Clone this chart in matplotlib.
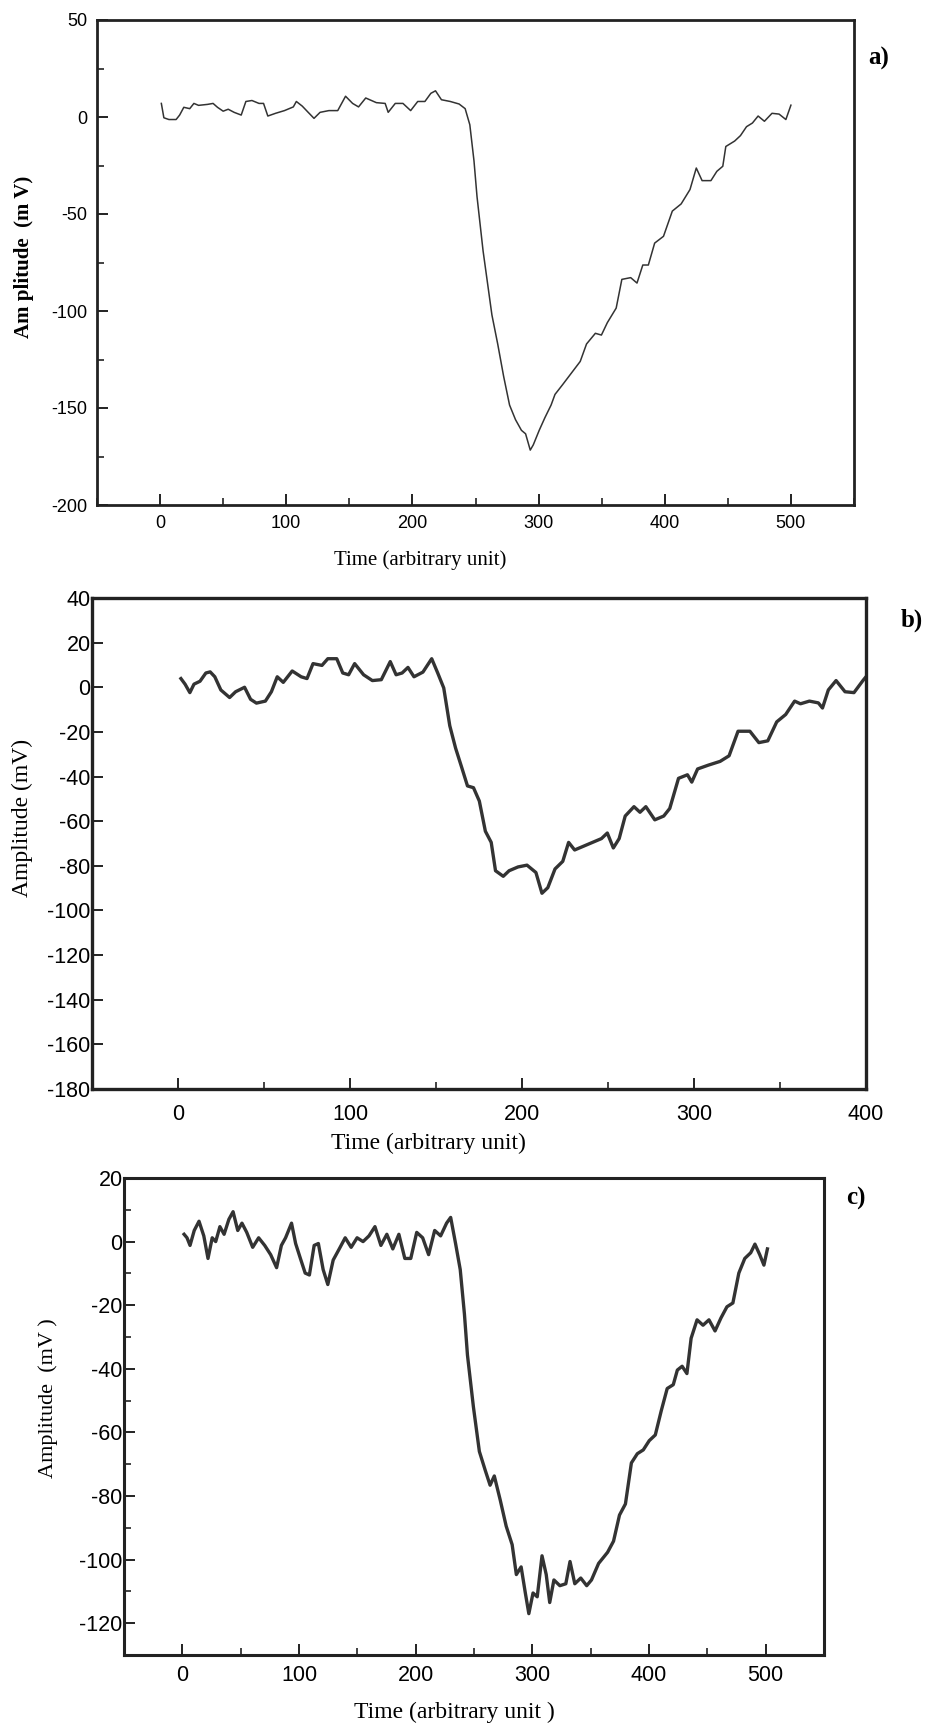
import matplotlib
matplotlib.use("Agg")
import matplotlib.pyplot as plt
from matplotlib.ticker import MultipleLocator

plt.rcParams['axes.unicode_minus'] = False

# ---- data ----
t_a = [1, 3, 7, 12.7, 15.5, 18.8, 23.5, 26.8, 30.5, 37.6, 42, 45.5, 50, 54, 58.7, 64.3, 68, 72.8,
       78.4, 82, 85.4, 91.5, 98.6, 105.6, 108, 112.7, 117.4, 122, 126.8, 133.8, 140.8, 147, 152.6,
       157.3, 163, 171.4, 178.4, 180.8, 186.4, 192.5, 198.6, 204.2, 209.9, 214.6, 218.3, 223, 230,
       237, 241.8, 245.5, 248.8, 251.2, 256, 263, 267.6, 272.3, 277, 281.7, 286.4, 289.7, 293.4,
       295.8, 300.5, 305, 309.9, 313, 319, 326, 333, 338, 345, 349.8, 354.5, 361.5, 366, 373, 378,
       382.6, 387, 392, 399, 406, 413, 420, 425, 429.6, 436.6, 441.3, 446, 448.4, 455.4, 460, 464.8,
       469.5, 474, 479, 485, 490.6, 496, 500]
v_a = [7, -0.4, -1.3, -1.3, 1, 5, 4.3, 7, 6, 6.5, 7, 5, 3, 4, 2.4, 1, 8, 8.5,
       7, 7, 0.5, 1.9, 3.3, 5.2, 8, 5.6, 2.4, -0.7, 2.4, 3.3, 3.3, 10.7, 7,
       5.2, 9.8, 7.4, 7, 2.4, 7, 7, 3.3, 8, 8, 12.2, 13.5, 8.9, 8,
       6.7, 4.3, -4, -22.6, -41, -69, -102, -117, -133.7, -148.5, -156, -161.5, -163.3, -171.7,
       -169, -161.5, -155, -148.5, -143, -138, -132, -126, -117, -111.5, -112.4, -106, -98.5, -83.7, -82.8, -85.6,
       -76.3, -76.3, -65, -61.5, -48.5, -44.8, -37.4, -26.3, -32.8, -32.8, -28, -25.4, -15.2, -12.4, -9.6, -5,
       -3.1, 0.5, -2.2, 1.9, 1.5, -1.3, 6.1]

t_b = [1.7, 4.1, 6.9, 9.3, 12.8, 16.2, 18.7, 21.4, 24.9, 30, 33.5, 38.7, 42.2, 45.6, 50.8, 54.3,
       57.7, 61.2, 66.4, 71.6, 75, 78.5, 83.7, 87.1, 92.3, 95.8, 99.2, 102.7, 107.9, 113, 118.2,
       123.4, 126.8, 130.3, 133.7, 137.2, 142.4, 147.5, 151, 154.5, 158, 161.4, 164.9, 168.3, 171.8,
       175.2, 178.7, 182.1, 184.6, 189.1, 192.5, 197.7, 202.9, 208.1, 211.6, 215, 219.2, 223.7, 227.1,
       230.6, 235.8, 241, 246.2, 249.6, 253.1, 256.5, 260, 265.1, 268.6, 272, 277.2, 282.4, 285.9,
       291, 296.2, 298.7, 302.1, 308.3, 315.2, 320.4, 325.6, 332.5, 337.7, 342.9, 348.1, 353.3,
       358.5, 361.9, 367.1, 372.3, 374.7, 378.1, 382.6, 387.8, 393, 398.2, 400]
v_b = [3.9, 1.4, -2.4, 1.4, 2.7, 6.4, 6.9, 4.7, -1.2, -4.6, -2, 0, -5.4, -7.1, -6.2, -2,
       4.7, 2.2, 7.3, 4.7, 3.9, 10.6, 9.8, 12.8, 12.8, 6.4, 5.6, 10.6, 5.6, 3, 3.4,
       11.5, 5.6, 6.4, 8.9, 4.7, 6.8, 12.8, 6.4, -0.3, -17.2, -27.3, -35.8, -44.2, -45,
       -51, -64.5, -69.5, -82.2, -84.7, -82.2, -80.5, -79.7, -83, -92.3, -89.8, -81.4, -78, -69.5,
       -72.9, -71.2, -69.5, -67.8, -65.3, -72, -67.8, -57.7, -53.5, -56, -53.5, -59.4, -57.7, -54.3,
       -40.8, -39.2, -42.5, -36.6, -34.9, -33.2, -30.7, -19.7, -19.7, -24.8, -24, -15.5, -12.2,
       -6.2, -7.4, -6.2, -7, -9.3, -1.2, 3, -2, -2.4, 3, 4.7]

t_c = [1.5, 4, 6.6, 10.2, 14.3, 18.4, 22, 25.6, 28.6, 32.2, 35.8, 39.9, 43.5, 47.5, 51.1, 55.2,
       60.3, 65.4, 70.6, 75.7, 80.8, 84.9, 88.5, 93.6, 97.1, 101.2, 105.3, 108.9, 113, 116.6, 120.7,
       124.7, 129.3, 134.5, 139.6, 144.7, 149.8, 154.9, 160, 165.1, 170.2, 175.3, 180.4, 185.6,
       190.7, 195.8, 200.9, 206, 211.1, 216.3, 221.4, 226.5, 230, 234.2, 238.2, 241.8, 244.4, 249.5,
       254.6, 259.7, 263.8, 267.4, 272.5, 277.6, 282.7, 286.3, 290.4, 294, 297, 300.6, 304.2, 308.3,
       311.9, 314.9, 318.5, 323.6, 328.7, 332.3, 336.4, 341.5, 346.6, 350.7, 356.8, 364.5, 369.6,
       374.7, 379.8, 384.9, 390, 395.1, 400.2, 405.4, 410.5, 415.6, 420.8, 424.3, 428.4, 432.5,
       436.1, 441.2, 446.3, 451.4, 456.6, 461.7, 466.8, 471.9, 477, 482.1, 487.2, 490.8, 494.9,
       498.5, 501.5]
v_c = [2.3, 1.2, -1.2, 3.5, 6.4, 1.8, -5.3, 1.2, 0, 4.7, 2.3, 7, 9.4, 3.5, 5.8, 2.9,
       -1.8, 1.2, -1.2, -4.1, -8.2, -1.2, 1.2, 5.8, -0.6, -5.3, -9.9, -10.5, -1.2, -0.6, -8.8,
       -13.5, -5.8, -2.3, 1.2, -1.8, 1.2, 0, 1.8, 4.7, -1.2, 2.3, -2.3, 2.3,
       -5.3, -5.3, 2.9, 1.2, -4.1, 3.5, 1.8, 5.8, 7.6, -0.6, -8.8, -22.8, -35.7, -52,
       -66, -72, -76.6, -73.7, -81.3, -89.5, -95.3, -104.7, -102.3, -110.5, -117, -110.5, -111.7, -98.8,
       -104.7, -113.5, -106.4, -108.2, -107.6, -100.6, -107.6, -105.8, -108.2, -106.4, -101.2, -97.7, -94.2,
       -86, -82.5, -69.6, -66.7, -65.5, -62.6, -60.8, -53.2, -46.2, -45, -40.4, -39.2, -41.5,
       -30.4, -24.6, -26.3, -24.6, -28.1, -24, -20.5, -19.3, -9.9, -5.3, -3.5, -0.8, -4.1,
       -7.4, -2.3]

W, H = 927, 1729
fig = plt.figure(figsize=(W / 100, H / 100), dpi=100)

tick_font = ['Liberation Sans Narrow', 'Liberation Sans', 'DejaVu Sans']
serif = ['Liberation Serif', 'DejaVu Serif']
line_col = '#333333'


def box(l, t, r, b):
    # pixel box -> figure fraction rect
    return [l / W, 1 - b / H, (r - l) / W, (b - t) / H]


def style(ax, lw, fs, pad_x, pad_y):
    for s in ax.spines.values():
        s.set_linewidth(lw)
        s.set_color('#222222')
    ax.tick_params(which='both', direction='in', top=False, right=False, color='#222222')
    ax.tick_params(which='major', length=8, width=1.4)
    ax.tick_params(which='minor', length=5, width=1.2)
    ax.tick_params(axis='x', pad=pad_x)
    ax.tick_params(axis='y', pad=pad_y)
    for lab in ax.get_xticklabels() + ax.get_yticklabels():
        lab.set_fontfamily(tick_font)
        lab.set_fontsize(fs)


# panel a
ax1 = fig.add_axes(box(97, 20, 854, 505))
ax1.plot(t_a, v_a, color=line_col, lw=1.1)
ax1.set_xlim(-50, 550)
ax1.set_ylim(-200, 50)
ax1.xaxis.set_major_locator(MultipleLocator(100))
ax1.xaxis.set_minor_locator(MultipleLocator(50))
ax1.yaxis.set_major_locator(MultipleLocator(50))
ax1.yaxis.set_minor_locator(MultipleLocator(25))
style(ax1, 2.0, 13, 7, 7)

# panel b
ax2 = fig.add_axes(box(92, 598, 866, 1089))
ax2.plot(t_b, v_b, color=line_col, lw=2.4)
ax2.set_xlim(-50, 400)
ax2.set_ylim(-180, 40)
ax2.xaxis.set_major_locator(MultipleLocator(100))
ax2.xaxis.set_minor_locator(MultipleLocator(50))
ax2.yaxis.set_major_locator(MultipleLocator(20))
style(ax2, 2.4, 15.5, 11, 1)

# panel c
ax3 = fig.add_axes(box(124, 1178, 824, 1655))
ax3.plot(t_c, v_c, color=line_col, lw=2.4)
ax3.set_xlim(-50, 550)
ax3.set_ylim(-130, 20)
ax3.xaxis.set_major_locator(MultipleLocator(100))
ax3.xaxis.set_minor_locator(MultipleLocator(50))
ax3.yaxis.set_major_locator(MultipleLocator(20))
ax3.yaxis.set_minor_locator(MultipleLocator(10))
style(ax3, 2.2, 15.5, 7, 1)


def ftext(x, y, s, **kw):
    fig.text(x / W, 1 - y / H, s, ha='center', va='center', **kw)


# axis labels and panel tags
ftext(24, 257, 'Am plitude  (m V)', rotation=90, fontsize=15, fontweight='bold', family=serif)
ftext(420, 560, 'Time (arbitrary unit)', fontsize=15, family=serif)
ftext(879, 58, 'a)', fontsize=18, fontweight='bold', family=serif)

ftext(22, 818, 'Amplitude (mV)', rotation=90, fontsize=17, family=serif)
ftext(428, 1143, 'Time (arbitrary unit)', fontsize=17, family=serif)
ftext(912, 620, 'b)', fontsize=18, fontweight='bold', family=serif)

ftext(48, 1398, 'Amplitude  (mV )', rotation=90, fontsize=16, family=serif)
ftext(454, 1712, 'Time (arbitrary unit )', fontsize=17, family=serif)
ftext(856, 1198, 'c)', fontsize=18, fontweight='bold', family=serif)

fig.savefig('out.png', dpi=100, facecolor='white')
